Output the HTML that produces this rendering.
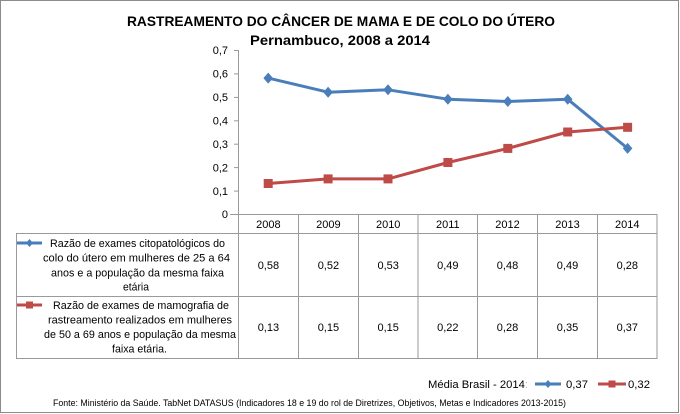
<!DOCTYPE html>
<html><head><meta charset="utf-8"><style>
html,body{margin:0;padding:0;background:#fff;}
svg{display:block;}
text{font-family:"Liberation Sans",sans-serif;fill:#000;}
</style></head><body>
<svg width="680" height="414" viewBox="0 0 680 414" xmlns="http://www.w3.org/2000/svg">
<rect x="0.5" y="0.5" width="678" height="412" fill="#fff" stroke="#8c8c8c" stroke-width="1"/>
<text x="127" y="26" font-size="14" font-weight="bold" textLength="428" lengthAdjust="spacingAndGlyphs">RASTREAMENTO DO CÂNCER DE MAMA E DE COLO DO ÚTERO</text>
<text x="250" y="45" font-size="14" font-weight="bold" textLength="180" lengthAdjust="spacingAndGlyphs">Pernambuco, 2008 a 2014</text>
<!-- y axis -->
<g stroke="#9a9a9a" stroke-width="1">
<line x1="238.5" y1="50" x2="238.5" y2="358.5"/>
<line x1="234" y1="50.5" x2="238.5" y2="50.5"/>
<line x1="234" y1="73.9" x2="238.5" y2="73.9"/>
<line x1="234" y1="97.4" x2="238.5" y2="97.4"/>
<line x1="234" y1="120.8" x2="238.5" y2="120.8"/>
<line x1="234" y1="144.2" x2="238.5" y2="144.2"/>
<line x1="234" y1="167.6" x2="238.5" y2="167.6"/>
<line x1="234" y1="191.1" x2="238.5" y2="191.1"/>
<line x1="230" y1="214.5" x2="657.5" y2="214.5"/>
<!-- table -->
<line x1="238.5" y1="233.5" x2="657.5" y2="233.5"/>
<line x1="16" y1="233.5" x2="238.5" y2="233.5"/>
<line x1="16" y1="296.5" x2="657.5" y2="296.5"/>
<line x1="16" y1="358.5" x2="657.5" y2="358.5"/>
<line x1="16.5" y1="233.5" x2="16.5" y2="358.5"/>
<line x1="298.5" y1="214.5" x2="298.5" y2="358.5"/>
<line x1="358.5" y1="214.5" x2="358.5" y2="358.5"/>
<line x1="418" y1="214.5" x2="418" y2="358.5"/>
<line x1="477.5" y1="214.5" x2="477.5" y2="358.5"/>
<line x1="537.5" y1="214.5" x2="537.5" y2="358.5"/>
<line x1="597.5" y1="214.5" x2="597.5" y2="358.5"/>
<line x1="657" y1="214.5" x2="657" y2="358.5"/>
</g>
<g font-size="11" text-anchor="end">
<text x="228" y="54">0,7</text>
<text x="228" y="77.5">0,6</text>
<text x="228" y="101">0,5</text>
<text x="228" y="124.5">0,4</text>
<text x="228" y="148">0,3</text>
<text x="228" y="171.5">0,2</text>
<text x="228" y="195">0,1</text>
<text x="228" y="218">0</text>
</g>
<!-- series -->
<polyline fill="none" stroke="#4a7ebb" stroke-width="3" stroke-linejoin="round" points="268.2,78.1 328.1,92.2 388,89.8 447.9,99.2 507.8,101.5 567.7,99.2 627.6,148.4"/>
<polyline fill="none" stroke="#be4b48" stroke-width="3" stroke-linejoin="round" points="268.2,183.5 328.1,178.9 388,178.9 447.9,162.5 507.8,148.4 567.7,132 627.6,127.3"/>
<g fill="#4a7ebb">
<path d="M268.2,72.6 l4.8,5.5 l-4.8,5.5 l-4.8,-5.5z"/>
<path d="M328.1,86.7 l4.8,5.5 l-4.8,5.5 l-4.8,-5.5z"/>
<path d="M388,84.3 l4.8,5.5 l-4.8,5.5 l-4.8,-5.5z"/>
<path d="M447.9,93.7 l4.8,5.5 l-4.8,5.5 l-4.8,-5.5z"/>
<path d="M507.8,96 l4.8,5.5 l-4.8,5.5 l-4.8,-5.5z"/>
<path d="M567.7,93.7 l4.8,5.5 l-4.8,5.5 l-4.8,-5.5z"/>
<path d="M627.6,142.9 l4.8,5.5 l-4.8,5.5 l-4.8,-5.5z"/>
</g>
<g fill="#be4b48">
<rect x="263.7" y="179" width="9" height="9"/>
<rect x="323.6" y="174.4" width="9" height="9"/>
<rect x="383.5" y="174.4" width="9" height="9"/>
<rect x="443.4" y="158" width="9" height="9"/>
<rect x="503.3" y="143.9" width="9" height="9"/>
<rect x="563.2" y="127.5" width="9" height="9"/>
<rect x="623.1" y="122.8" width="9" height="9"/>
</g>
<!-- header years -->
<g font-size="11" text-anchor="middle">
<text x="268.4" y="228">2008</text>
<text x="328.4" y="228">2009</text>
<text x="388.2" y="228">2010</text>
<text x="447.8" y="228">2011</text>
<text x="507.5" y="228">2012</text>
<text x="567.5" y="228">2013</text>
<text x="627.3" y="228">2014</text>
<text x="268.4" y="269">0,58</text>
<text x="328.4" y="269">0,52</text>
<text x="388.2" y="269">0,53</text>
<text x="447.8" y="269">0,49</text>
<text x="507.5" y="269">0,48</text>
<text x="567.5" y="269">0,49</text>
<text x="627.3" y="269">0,28</text>
<text x="268.4" y="331">0,13</text>
<text x="328.4" y="331">0,15</text>
<text x="388.2" y="331">0,15</text>
<text x="447.8" y="331">0,22</text>
<text x="507.5" y="331">0,28</text>
<text x="567.5" y="331">0,35</text>
<text x="627.3" y="331">0,37</text>
</g>
<!-- row labels -->
<line x1="17" y1="243" x2="42" y2="243" stroke="#4a7ebb" stroke-width="3"/>
<path d="M29.5,239 l3.5,4 l-3.5,4 l-3.5,-4z" fill="#4a7ebb"/>
<line x1="17" y1="305" x2="42" y2="305" stroke="#be4b48" stroke-width="3"/>
<rect x="26" y="301.5" width="7" height="7" fill="#be4b48"/>
<g font-size="11">
<text x="50" y="247" textLength="175" lengthAdjust="spacingAndGlyphs">Razão de exames citopatológicos do</text>
<text x="43" y="261.5" textLength="187" lengthAdjust="spacingAndGlyphs">colo do útero em mulheres de 25 a 64</text>
<text x="51" y="276.5" textLength="173" lengthAdjust="spacingAndGlyphs">anos e a população da mesma faixa</text>
<text x="123" y="290.5" textLength="26" lengthAdjust="spacingAndGlyphs">etária</text>
<text x="53" y="309" textLength="176" lengthAdjust="spacingAndGlyphs">Razão de exames de mamografia de</text>
<text x="48" y="323.5" textLength="184" lengthAdjust="spacingAndGlyphs">rastreamento realizados em mulheres</text>
<text x="44" y="338" textLength="192" lengthAdjust="spacingAndGlyphs">de 50 a 69 anos e população da mesma</text>
<text x="112" y="352.5" textLength="55" lengthAdjust="spacingAndGlyphs">faixa etária.</text>
</g>
<!-- bottom legend -->
<text x="428" y="388" font-size="11" textLength="100" lengthAdjust="spacingAndGlyphs">Média Brasil - 2014<tspan fill="#9ab8e0">:</tspan></text>
<line x1="535" y1="384" x2="561" y2="384" stroke="#4a7ebb" stroke-width="3"/>
<path d="M548,380 l3.5,4 l-3.5,4 l-3.5,-4z" fill="#4a7ebb"/>
<text x="566" y="388" font-size="11" textLength="22" lengthAdjust="spacingAndGlyphs">0,37</text>
<line x1="598" y1="384" x2="626" y2="384" stroke="#be4b48" stroke-width="3"/>
<rect x="608.5" y="380.5" width="7" height="7" fill="#be4b48"/>
<text x="628" y="388" font-size="11" textLength="22" lengthAdjust="spacingAndGlyphs">0,32</text>
<text x="53" y="406" font-size="9" textLength="513" lengthAdjust="spacingAndGlyphs">Fonte: Ministério da Saúde. TabNet DATASUS (Indicadores 18 e 19 do rol de Diretrizes, Objetivos, Metas e Indicadores 2013-2015)</text>
</svg>
</body></html>
